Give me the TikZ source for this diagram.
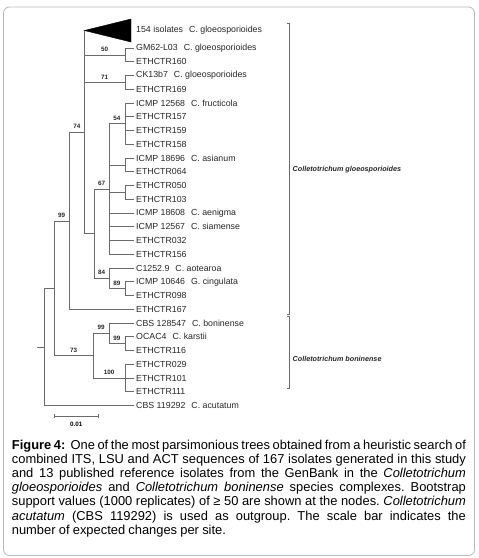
\documentclass[tikz,border=0pt]{standalone}
\usepackage{fontspec}
\setmainfont{Liberation Sans}

\definecolor{treegray}{gray}{0.42}
\definecolor{framegray}{gray}{0.72}
\newcommand{\spgap}{\hspace{6pt}}

\tikzset{
  leaf/.style={anchor=west, inner sep=2pt, text=black!85, font=\fontsize{8.8}{10}\selectfont},
  boot/.style={above=2.6pt, inner sep=0.5pt, text=black!85, font=\fontsize{6.3}{7}\selectfont\bfseries},
  clade/.style={anchor=west, inner sep=0pt, text=black!85, font=\fontsize{7.2}{9}\selectfont\bfseries\itshape},
  branch/.style={draw=treegray, line width=0.6pt}
}

\begin{document}
\begin{tikzpicture}[x=1pt, y=-1pt]

\useasboundingbox ( 0, 0 ) rectangle ( 479, 558 );

% Frame
\draw [framegray, line width=0.8pt, rounded corners=6pt] ( 3.5, 7 ) rectangle ( 474.5, 555.5 );

% Leaves
\node (l00) at ( 134, 30 ) [leaf] {154 isolates\spgap C. gloeosporioides};
\node (l0) at ( 134, 48 ) [leaf] {GM62-L03\spgap C. gloeosporioides};
\node (l1) at ( 134, 61.75 ) [leaf] {ETHCTR160};
\node (l2) at ( 134, 75.5 ) [leaf] {CK13b7\spgap C. gloeosporioides};
\node (l3) at ( 134, 89.25 ) [leaf] {ETHCTR169};
\node (l4) at ( 134, 103 ) [leaf] {ICMP 12568\spgap C. fructicola};
\node (l5) at ( 134, 116.75 ) [leaf] {ETHCTR157};
\node (l6) at ( 134, 130.5 ) [leaf] {ETHCTR159};
\node (l7) at ( 134, 144.25 ) [leaf] {ETHCTR158};
\node (l8) at ( 134, 158 ) [leaf] {ICMP 18696\spgap C. asianum};
\node (l9) at ( 134, 171.75 ) [leaf] {ETHCTR064};
\node (l10) at ( 134, 185.5 ) [leaf] {ETHCTR050};
\node (l11) at ( 134, 199.25 ) [leaf] {ETHCTR103};
\node (l12) at ( 134, 213 ) [leaf] {ICMP 18608\spgap C. aenigma};
\node (l13) at ( 134, 226.75 ) [leaf] {ICMP 12567\spgap C. siamense};
\node (l14) at ( 134, 240.5 ) [leaf] {ETHCTR032};
\node (l15) at ( 134, 254.25 ) [leaf] {ETHCTR156};
\node (l16) at ( 134, 268 ) [leaf] {C1252.9\spgap C. aotearoa};
\node (l17) at ( 134, 281.75 ) [leaf] {ICMP 10646\spgap G. cingulata};
\node (l18) at ( 134, 295.5 ) [leaf] {ETHCTR098};
\node (l19) at ( 134, 309.25 ) [leaf] {ETHCTR167};
\node (l20) at ( 134, 323 ) [leaf] {CBS 128547\spgap C. boninense};
\node (l21) at ( 134, 336.75 ) [leaf] {OCAC4\spgap C. karstii};
\node (l22) at ( 134, 350.5 ) [leaf] {ETHCTR116};
\node (l23) at ( 134, 364.25 ) [leaf] {ETHCTR029};
\node (l24) at ( 134, 378 ) [leaf] {ETHCTR101};
\node (l25) at ( 134, 391.75 ) [leaf] {ETHCTR111};
\node (l26) at ( 134, 405.5 ) [leaf] {CBS 119292\spgap C. acutatum};

% Inner nodes
\coordinate (stub) at ( 37, 346.9 );
\coordinate (root) at ( 44, 346.9 );
\coordinate (nIn) at ( 54, 288.2 );
\coordinate (n99) at ( 69.3, 220.8 );
\coordinate (n74) at ( 84.3, 132.3 );
\coordinate (tip) at ( 84.3, 30.5 );
\coordinate (n50) at ( 125, 54.9 );
\coordinate (n71) at ( 125, 82.4 );
\coordinate (nB) at ( 94.5, 233.6 );
\coordinate (n67) at ( 109, 188.9 );
\coordinate (n54) at ( 125, 123.6 );
\coordinate (nAs) at ( 125, 164.9 );
\coordinate (nEt) at ( 125, 192.4 );
\coordinate (n84) at ( 109, 278.3 );
\coordinate (n89) at ( 125, 288.6 );
\coordinate (n73) at ( 93.3, 355.7 );
\coordinate (n99b) at ( 109, 333.3 );
\coordinate (n99c) at ( 125, 343.6 );
\coordinate (n100) at ( 125, 378 );

% Collapsed clade
\filldraw [black] (tip) -- ( 131, 19 ) -- ( 131, 42 ) -- cycle;

% Branches
\draw [branch] (stub) -- (root);
\draw [branch] (root) |- (nIn);
\draw [branch] (root) |- (l26.west);
\draw [branch] (nIn) |- node [boot, pos=0.75] {99} (n99);
\draw [branch] (nIn) |- node [boot, pos=0.75] {73} (n73);
\draw [branch] (n99) |- node [boot, pos=0.75] {74} (n74);
\draw [branch] (n99) |- (l19.west);
\draw [branch] (n74) -- (tip);
\draw [branch] (n74) |- node [boot, pos=0.75] {50} (n50);
\draw [branch] (n74) |- node [boot, pos=0.75] {71} (n71);
\draw [branch] (n74) |- (nB);
\draw [branch] (n50) |- (l0.west);
\draw [branch] (n50) |- (l1.west);
\draw [branch] (n71) |- (l2.west);
\draw [branch] (n71) |- (l3.west);
\draw [branch] (nB) |- node [boot, pos=0.75] {67} (n67);
\draw [branch] (nB) |- node [boot, pos=0.75] {84} (n84);
\draw [branch] (n67) |- node [boot, pos=0.75] {54} (n54);
\draw [branch] (n67) |- (nAs);
\draw [branch] (n67) |- (nEt);
\draw [branch] (n67) |- (l12.west);
\draw [branch] (n67) |- (l13.west);
\draw [branch] (n67) |- (l14.west);
\draw [branch] (n67) |- (l15.west);
\draw [branch] (n54) |- (l4.west);
\draw [branch] (n54) |- (l5.west);
\draw [branch] (n54) |- (l6.west);
\draw [branch] (n54) |- (l7.west);
\draw [branch] (nAs) |- (l8.west);
\draw [branch] (nAs) |- (l9.west);
\draw [branch] (nEt) |- (l10.west);
\draw [branch] (nEt) |- (l11.west);
\draw [branch] (n84) |- (l16.west);
\draw [branch] (n84) |- node [boot, pos=0.75] {89} (n89);
\draw [branch] (n89) |- (l17.west);
\draw [branch] (n89) |- (l18.west);
\draw [branch] (n73) |- node [boot, pos=0.75] {99} (n99b);
\draw [branch] (n73) |- node [boot, pos=0.75] {100} (n100);
\draw [branch] (n99b) |- (l20.west);
\draw [branch] (n99b) |- node [boot, pos=0.75] {99} (n99c);
\draw [branch] (n99c) |- (l21.west);
\draw [branch] (n99c) |- (l22.west);
\draw [branch] (n100) |- (l23.west);
\draw [branch] (n100) |- (l24.west);
\draw [branch] (n100) |- (l25.west);

% Scale bar
\coordinate (sb1) at ( 54, 416 );
\coordinate (sb2) at ( 98.3, 416 );
\draw [branch] (sb1) -- (sb2);
\draw [branch] ( 54, 414 ) -- ++( 0, 4 );
\draw [branch] ( 98.3, 414 ) -- ++( 0, 4 );
\node (sbl) at ( 76.2, 424 ) [inner sep=0pt, font=\fontsize{6.3}{7}\selectfont\bfseries] {0.01};

% Species complexes
\draw [branch] ( 287, 23 ) -- ( 289, 23 ) -- ( 289, 314 ) -- ( 287, 314 );
\draw [branch] ( 287, 316.5 ) -- ( 289, 316.5 ) -- ( 289, 388.5 ) -- ( 287, 388.5 );
\node (cg) at ( 292.5, 169.5 ) [clade] {Colletotrichum gloeosporioides};
\node (cb) at ( 292.5, 359 ) [clade] {Colletotrichum boninense};

% Caption
\node (cap) at ( 11.7, 439.5 ) [anchor=north west, inner sep=0pt, text width=454pt, align=justify,
  font=\fontsize{12.9}{14.2}\selectfont]
  {\frenchspacing\spaceskip=0.25em plus 0.35em minus 0.07em\relax
  \textbf{Figure 4:}\ \hspace{2.5pt}One of the most parsimonious trees obtained from a heuristic search of\linebreak
  combined ITS, LSU and ACT sequences of 167 isolates generated in this study\linebreak
  and 13 published reference isolates from the GenBank in the \textit{Colletotrichum}\linebreak
  \textit{gloeosporioides} and \textit{Colletotrichum boninense} species complexes. Bootstrap\linebreak
  support values (1000 replicates) of ≥ 50 are shown at the nodes. \textit{Colletotrichum}\linebreak
  \textit{acutatum} (CBS 119292) is used as outgroup. The scale bar indicates the\linebreak
  number of expected changes per site.};

\end{tikzpicture}
\end{document}
